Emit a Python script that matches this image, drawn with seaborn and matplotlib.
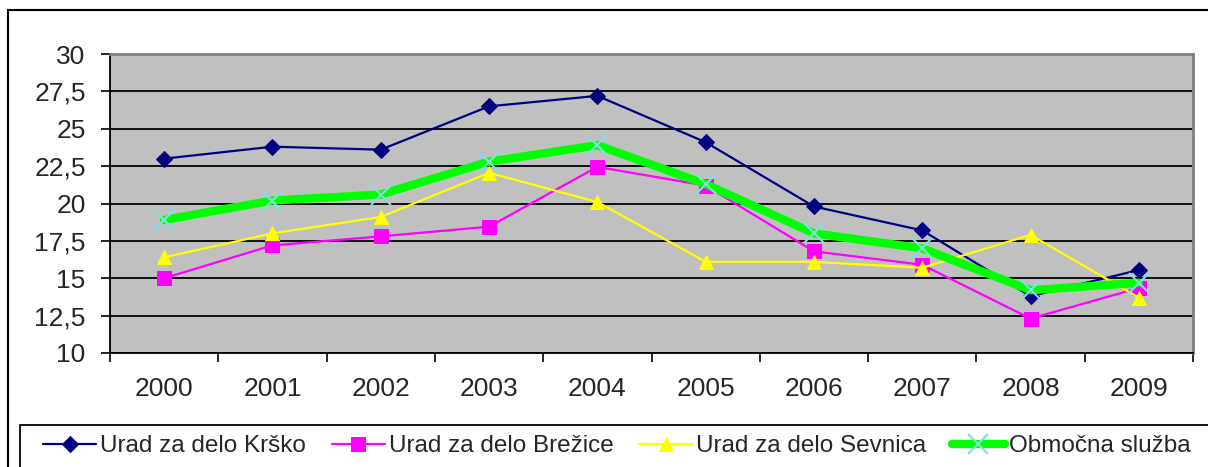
import matplotlib
matplotlib.use("Agg")
import matplotlib.pyplot as plt
import seaborn as sns
import pandas as pd
from matplotlib.patches import Rectangle
from matplotlib.ticker import FixedLocator, NullFormatter, FuncFormatter

years = ["2000", "2001", "2002", "2003", "2004", "2005", "2006", "2007", "2008", "2009"]
krsko = [23.0, 23.8, 23.6, 26.5, 27.2, 24.1, 19.8, 18.2, 13.8, 15.55]
brezice = [15.0, 17.2, 17.8, 18.45, 22.45, 21.2, 16.8, 15.9, 12.3, 14.35]
sevnica = [16.4, 18.0, 19.1, 22.05, 20.1, 16.1, 16.1, 15.7, 17.9, 13.7]
obmocna = [18.9, 20.2, 20.6, 22.8, 23.9, 21.3, 18.0, 17.0, 14.2, 14.7]
names = ["Urad za delo Krško", "Urad za delo Brežice", "Urad za delo Sevnica", "Območna služba"]
yticks = [10, 12.5, 15, 17.5, 20, 22.5, 25, 27.5, 30]

sns.set_style("white")
plt.rcParams['font.family'] = ['Liberation Sans', 'DejaVu Sans']

fig = plt.figure(figsize=(12.08, 4.67), dpi=100)
W, H = 1208, 467
ax = fig.add_axes([110 / W, 1 - 353 / H, (1193 - 110) / W, (353 - 54) / H])
ax.set_facecolor("#C0C0C0")

xs = list(range(len(years)))
styles = [
    dict(color="#000080", marker="D", markersize=8.5, linewidth=1.6, mec="#000080"),
    dict(color="#FF00FF", marker="s", markersize=10, linewidth=1.6, mec="#FF00FF"),
    dict(color="#FFFF00", marker="^", markersize=10, linewidth=1.6, mec="#FFFF00"),
    dict(color="#00FF00", marker="x", markersize=15, linewidth=6, mec="#80E0E0", mew=1.5),
]
series = [krsko, brezice, sevnica, obmocna]
for vals, name, st in zip(series, names, styles):
    df = pd.DataFrame({"x": xs, "y": vals})
    sns.lineplot(data=df, x="x", y="y", ax=ax, label=name, zorder=3, **st)

ax.set_xlim(-0.5, 9.5)
ax.set_ylim(10, 30)
ax.set_xlabel("")
ax.set_ylabel("")

# x ticks: marks at boundaries, labels at centres
ax.xaxis.set_major_locator(FixedLocator([i - 0.5 for i in range(11)]))
ax.xaxis.set_major_formatter(NullFormatter())
ax.xaxis.set_minor_locator(FixedLocator(xs))
ax.set_xticklabels(years, minor=True)
ax.tick_params(axis="x", which="major", direction="out", length=6.5, width=1.2, color="black", bottom=True)
ax.tick_params(axis="x", which="minor", length=0, pad=17, labelsize=19)

ax.set_yticks(yticks)
ax.yaxis.set_major_formatter(FuncFormatter(lambda v, p: (f"{v:g}").replace(".", ",")))
ax.tick_params(axis="y", direction="out", length=6.5, width=1.2, color="black", left=True, labelsize=19, pad=11)

ax.grid(axis="y", color="black", linewidth=1.3)
ax.set_axisbelow(True)
for s in ["left", "bottom"]:
    ax.spines[s].set_color("black")
    ax.spines[s].set_linewidth(1.3)
for s in ["top", "right"]:
    ax.spines[s].set_color("#808080")
    ax.spines[s].set_linewidth(2)

leg = ax.legend(loc="center left", bbox_to_anchor=(43 / W, 1 - 446 / H),
                bbox_transform=fig.transFigure, ncol=4, frameon=False,
                fontsize=17.5, handlelength=2.2, handletextpad=0.15, borderpad=0,
                borderaxespad=0, columnspacing=1.05)

fig.patches.append(Rectangle((20 / W, -0.1), 1.2, 0.1 + 1 - 425 / H, transform=fig.transFigure,
                             fill=False, edgecolor="black", linewidth=1.3, zorder=0))
fig.patches.append(Rectangle((8 / W, -0.1), 1.2, 1 - 10 / H + 0.1, transform=fig.transFigure,
                             fill=False, edgecolor="black", linewidth=1.5, zorder=0))

fig.savefig("out.png", dpi=100, facecolor="white")
